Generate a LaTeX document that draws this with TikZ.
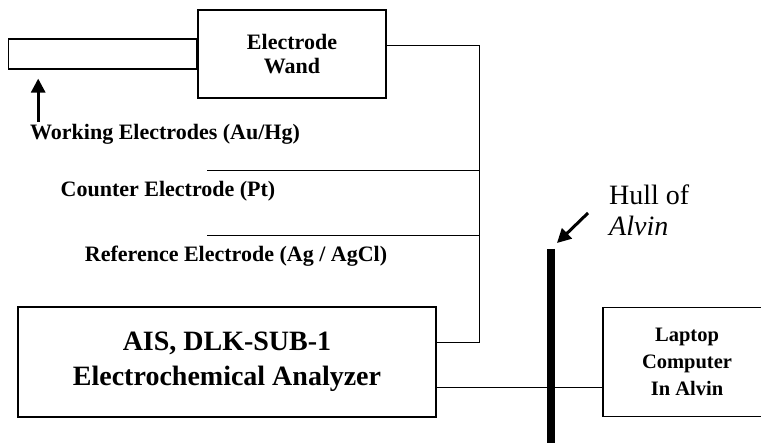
\documentclass[tikz,border=0pt]{standalone}
\usepackage{fontspec}
\setmainfont{Liberation Serif}
\usetikzlibrary{arrows.meta, positioning, calc}

\begin{document}
\begin{tikzpicture}[
    x=1pt, y=-1pt,
    box/.style={draw, line width=1.2pt, align=center, inner sep=0pt},
    lbl/.style={font=\fontsize{22}{26}\selectfont\bfseries, inner sep=0pt},
    wire/.style={line width=1pt},
    >={Triangle[length=14pt, width=14pt]}
]
\clip (0,0) rectangle (761,443);
\node[box, minimum width=188pt, minimum height=88pt, font=\fontsize{22}{24}\selectfont\bfseries] (wand) at (292,54) {Electrode\\Wand};
\node[box, minimum width=188pt, minimum height=30pt, anchor=east] (probe) at (wand.west) {};
\node[box, minimum width=418pt, minimum height=110pt, font=\fontsize{28}{35}\selectfont\bfseries] (analyzer) at (227,362) {AIS, DLK-SUB-1\\Electrochemical Analyzer};
\node[box, minimum width=168pt, minimum height=109pt, font=\fontsize{20.5}{27}\selectfont\bfseries] (laptop) at (687,362) {Laptop\\Computer\\In Alvin};

\node[lbl] (working) at (165,134) {Working Electrodes (Au/Hg)};
\node[lbl] (counter) at (168,191) {Counter Electrode (Pt)};
\node[lbl] (reference) at (236,256) {Reference Electrode (Ag / AgCl)};
\node[font=\fontsize{28}{31}\selectfont, align=left, anchor=west, inner sep=0pt] (hull) at (609,210) {Hull of\\\textit{Alvin}};

\coordinate (jn) at (479,46);
\coordinate (anaw) at (479,343);
\coordinate (ctr) at (207,171);
\coordinate (ref) at (207,236);
\coordinate (link) at (500,388);
\coordinate (hulltop) at (551,249);
\coordinate (hullbot) at (551,450);

% wiring
\draw[wire] (wand.east |- jn) -- (jn) -- (anaw) -- (analyzer.east |- anaw);
\draw[wire] (ctr) -- (ctr -| jn);
\draw[wire] (ref) -- (ref -| jn);
\draw[wire] (analyzer.east |- link) -- (laptop.west |- link);

% hull
\draw[line width=7.5pt] (hulltop) -- (hullbot);
\draw[->, line width=3pt] ($(hull.west)+(-21,3)$) -- ($(hulltop)+(6,-6)$);
\draw[->, line width=3pt] ($(probe.south west)+(30,52)$) -- ($(probe.south west)+(30,9)$);
\end{tikzpicture}
\end{document}
